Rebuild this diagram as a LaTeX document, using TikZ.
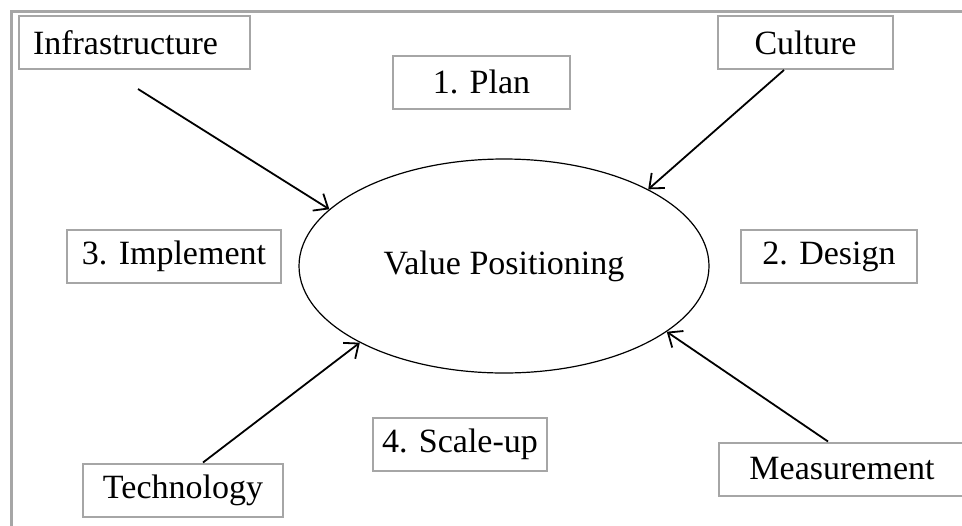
\documentclass[tikz,border=0pt]{standalone}
\usepackage{fontspec}
\setmainfont{Liberation Serif}
\usetikzlibrary{shapes.geometric,arrows.meta}
\definecolor{boxgray}{RGB}{166,166,166}
\newcommand{\boxh}{26.5pt}

\begin{document}
\begin{tikzpicture}[x=0.5pt, y=-0.5pt,
    rect/.style={draw=boxgray, line width=1pt, rectangle, minimum height=\boxh, inner sep=0pt, font=\fontsize{17}{20}\selectfont},
    oval/.style={draw, ellipse, line width=0.6pt, minimum width=205pt, minimum height=107pt, inner sep=0pt, font=\fontsize{17}{20}\selectfont},
    pull/.style={line width=0.9pt, -{Straight Barb[length=6pt, width=10pt]}}]
    \clip (0,0) rectangle (962,525);

    % Frame
    \draw[boxgray, line width=1.5pt] (11,530) -- (11,11) -- (970,11);

    % Centre
    \node[oval] (vp) at (504,266) {Value Positioning};

    % Corner boxes
    \node[rect, minimum width=115.5pt, text width=101.5pt, align=left] (infra) at (134.5,42.5) {Infrastructure};
    \node[rect, minimum width=87.5pt] (culture) at (805.5,42.5) {Culture};
    \node[rect, minimum width=100pt] (tech) at (183,490) {Technology};
    \node[rect, minimum width=123pt] (measure) at (842,469) {Measurement};

    % Phase boxes
    \node[rect, minimum width=88.5pt] (plan) at (481.5,82) {1. Plan};
    \node[rect, minimum width=88pt] (design) at (829,256.5) {2. Design};
    \node[rect, minimum width=107pt] (implement) at (174,256.5) {3. Implement};
    \node[rect, minimum width=87pt] (scaleup) at (460,444.5) {4. Scale-up};

    % Arrows
    \coordinate (infra-tail) at ([xshift=1.75pt, yshift=-9.5pt]infra.south);
    \draw[pull] (infra-tail) -- (vp.162);
    \draw[pull] ([xshift=-10.75pt]culture.south) -- (vp.28);
    \draw[pull] ([xshift=10pt]tech.north) -- (vp.208);
    \draw[pull] ([xshift=-7pt]measure.north) -- (vp.338);

\end{tikzpicture}
\end{document}
